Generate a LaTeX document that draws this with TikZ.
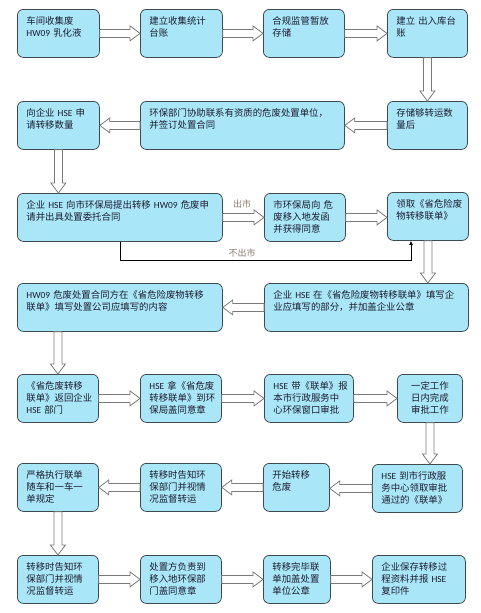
\documentclass[tikz,border=0pt]{standalone}
\usepackage{fontspec}
\setmainfont{Noto Sans CJK SC}
\newfontfamily\latinfont{Carlito}
\usetikzlibrary{arrows.meta,positioning,calc}
\definecolor{BoxFill}{HTML}{A9E7F8}
\definecolor{BoxLine}{HTML}{3E4A4F}
\definecolor{Ink}{HTML}{1C1C30}
\definecolor{Muted}{HTML}{8A7D70}
\definecolor{Hollow}{HTML}{7A7A7A}

\begin{document}
\begin{tikzpicture}[x=1pt,y=-1pt,
    stepbox/.style={draw=BoxLine,fill=BoxFill,line width=0.8pt,rounded corners=6pt,anchor=north west,align=left,inner xsep=9pt,inner ysep=5pt,text height=10pt,text depth=28pt,text=Ink,font=\fontsize{9.4}{12}\selectfont},
    blockarrow/.style={draw=Hollow,fill=white,line width=0.8pt,line join=miter,to path={let \p1=(\tikztostart),\p2=(\tikztotarget),\n1={veclen(\x2-\x1,\y2-\y1)},\n2={atan2(\y2-\y1,\x2-\x1)} in [shift={(\p1)},rotate=\n2] (0pt,-4pt) -- ({\n1-10pt},-4pt) -- ({\n1-10pt},-7.5pt) -- ({\n1+0pt},0pt) -- ({\n1-10pt},7.5pt) -- ({\n1-10pt},4pt) -- (0pt,4pt) -- cycle}},
    branch/.style={text=Muted,font=\fontsize{9}{10}\selectfont}]
    \useasboundingbox (0,0) rectangle (481,613);
    \node[stepbox,text width=64pt] (collect) at (17,9) {车间收集废\\{\latinfont HW09}~乳化液};
    \node[stepbox,text width=64pt] (ledger) at (140,9) {建立收集统计\\台账};
    \node[stepbox,text width=63pt] (store) at (263,9) {合规监管暂放\\存储};
    \node[stepbox,text width=62pt] (inout) at (387,9) {建立~出入库台\\账};
    \node[stepbox,text width=64pt] (apply) at (17,101) {向企业~{\latinfont HSE}~申\\请转移数量};
    \node[stepbox,text width=186pt] (contract) at (140,101) {环保部门协助联系有资质的危废处置单位，\\并签订处置合同};
    \node[stepbox,text width=62pt] (enough) at (387,101) {存储够转运数\\量后};
    \node[stepbox,text width=187pt] (request) at (17,193) {企业~{\latinfont HSE}~向市环保局提出转移~{\latinfont HW09}~危废申\\请并出具处置委托合同};
    \node[stepbox,text width=63pt] (letter) at (264,193) {市环保局向~危\\废移入地发函\\并获得同意};
    \node[stepbox,text width=63pt] (form) at (387,192) {领取《省危险废\\物转移联单》};
    \node[stepbox,text width=187pt] (fillin) at (17,283) {{\latinfont HW09}~危废处置合同方在《省危险废物转移\\联单》填写处置公司应填写的内容};
    \node[stepbox,text width=186pt] (stamp) at (264,283) {企业~{\latinfont HSE}~在《省危险废物转移联单》填写企\\业应填写的部分，并加盖企业公章};
    \node[stepbox,text width=63pt] (back) at (17,374) {《省危废转移\\联单》返回企业\\{\latinfont HSE}~部门};
    \node[stepbox,text width=63pt] (bureau) at (140,374) {{\latinfont HSE}~拿《省危废\\转移联单》到环\\保局盖同意章};
    \node[stepbox,text width=71pt] (window) at (264,374) {{\latinfont HSE}~带《联单》报\\本市行政服务中\\心环保窗口审批};
    \node[stepbox,text width=47pt,align=center] (days) at (397,374) {一定工作\\日内完成\\审批工作};
    \node[stepbox,text width=63pt] (strict) at (17,463) {严格执行联单\\随车和一车一\\单规定};
    \node[stepbox,text width=63pt] (notify) at (140,463) {转移时告知环\\保部门并视情\\况监督转运};
    \node[stepbox,text width=48pt] (start) at (263,463) {开始转移\\危废};
    \node[stepbox,text width=72pt] (fetch) at (372,464) {{\latinfont HSE}~到市行政服\\务中心领取审批\\通过的《联单》};
    \node[stepbox,text width=63pt] (watch) at (17,555) {转移时告知环\\保部门并视情\\况监督转运};
    \node[stepbox,text width=63pt] (receive) at (140,555) {处置方负责到\\移入地环保部\\门盖同意章};
    \node[stepbox,text width=49pt] (done) at (263,555) {转移完毕联\\单加盖处置\\单位公章};
    \node[stepbox,text width=75pt] (keep) at (372,555) {企业保存转移过\\程资料并报~{\latinfont HSE}\\复印件};
    \draw[blockarrow] (collect.east) to (ledger.west);
    \draw[blockarrow] (ledger.east) to (store.west);
    \draw[blockarrow] (store.east) to (inout.west);
    \draw[blockarrow] (inout.south) to (enough.north);
    \draw[blockarrow] (enough.west) to (contract.east);
    \draw[blockarrow] (contract.west) to (apply.east);
    \draw[blockarrow] (apply.south) to (apply.south |- request.north);
    \draw[blockarrow] (request.east) to (letter.west);
    \node[branch] (out) at (242,204) {出市};
    \draw[blockarrow] (letter.east) to (letter.east -| form.west);
    \draw[line width=0.8pt,-{Latex[length=4pt,width=4pt]}] (request.south) -- ++(0,19) -| node[branch,above,pos=0.21] (stay) {不出市} ([xshift=24pt]form.south west);
    \draw[blockarrow] (form.south) to (form.south |- stamp.north);
    \draw[blockarrow] (stamp.west) to (stamp.west -| fillin.east);
    \draw[blockarrow] (back.north |- fillin.south) to (back.north);
    \draw[blockarrow] (back.east) to (bureau.west);
    \draw[blockarrow] (bureau.east) to (window.west);
    \draw[blockarrow] (window.east) to (days.west);
    \draw[blockarrow] (days.south) to (days.south |- fetch.north);
    \draw[blockarrow] (fetch.west) to (fetch.west -| start.east);
    \draw[blockarrow] (start.west) to (notify.east);
    \draw[blockarrow] (notify.west) to (strict.east);
    \draw[blockarrow] (strict.south) to (watch.north);
    \draw[blockarrow] (watch.east) to (receive.west);
    \draw[blockarrow] (receive.east) to (done.west);
    \draw[blockarrow] (done.east) to (done.east -| keep.west);
\end{tikzpicture}
\end{document}
